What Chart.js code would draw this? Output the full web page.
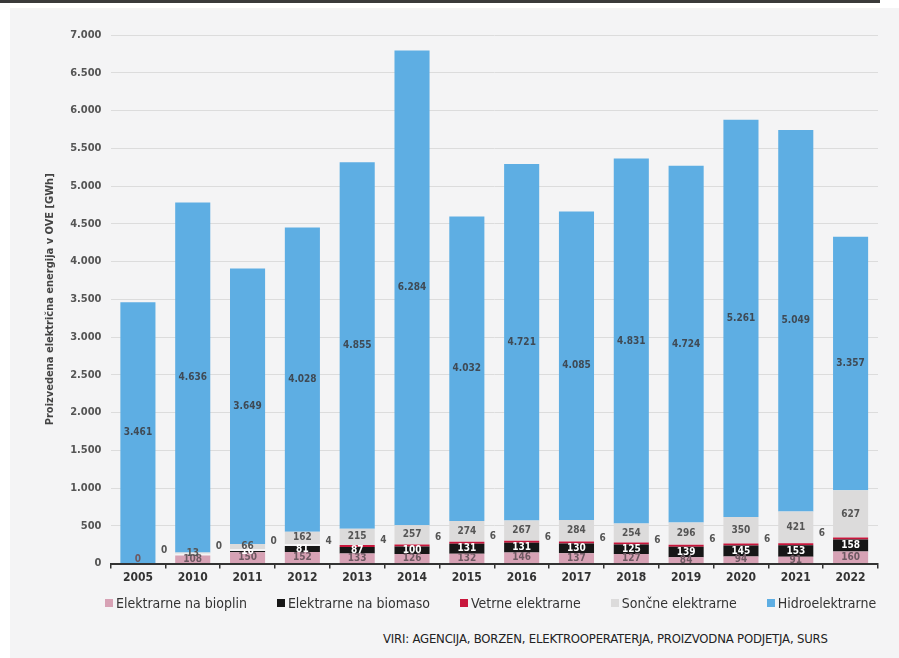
<!DOCTYPE html>
<html>
<head>
<meta charset="utf-8">
<script src="https://cdn.jsdelivr.net/npm/chart.js@4.4.0/dist/chart.umd.min.js"></script>
<style>
  html, body { margin: 0; padding: 0; background: #ffffff; }
  .topbar { position: absolute; left: 0; top: 0; width: 880px; height: 3px; background: #3a3a3a; }
  .panel { position: absolute; left: 10px; top: 8px; width: 889px; height: 650px; background: #f4f4f5; }
  .wrap { position: absolute; left: 0; top: 0; width: 899px; height: 600px; }
  .legend { position: absolute; left: 105px; top: 595px; display: flex; gap: 30px; font: 14px 'DejaVu Sans Condensed', sans-serif; color: #333; }
  .legend span.item { display: flex; align-items: center; white-space: nowrap; }
  .legend i { display: inline-block; width: 8px; height: 8px; margin-right: 3px; }
  .source { position: absolute; left: 383px; top: 631px; font: 13px 'DejaVu Sans Condensed', sans-serif; color: #222; letter-spacing: -0.2px; }
</style>
</head>
<body>
<div class="topbar"></div>
<div class="panel"></div>
<div class="wrap"><canvas id="chart" width="899" height="600"></canvas></div>
<div class="legend" id="legend"></div>
<div class="source">VIRI: AGENCIJA, BORZEN, ELEKTROOPERATERJA, PROIZVODNA PODJETJA, SURS</div>
<script>
// podatki
const years = ['2005', '2010', '2011', '2012', '2013', '2014', '2015', '2016', '2017', '2018', '2019', '2020', '2021', '2022'];
const bioplin = [0, 108, 150, 152, 133, 126, 132, 146, 137, 127, 84, 94, 91, 160];
const biomasa = [null, null, 16, 81, 87, 100, 131, 131, 130, 125, 139, 145, 153, 158];
const veter = [null, 0, 0, 0, 4, 4, 6, 6, 6, 6, 6, 6, 6, 6];
const sonce = [null, 13, 66, 162, 215, 257, 274, 267, 284, 254, 296, 350, 421, 627];
const hidro = [3461, 4636, 3649, 4028, 4855, 6284, 4032, 4721, 4085, 4831, 4724, 5261, 5049, 3357];
const yTicks = [0, 500, 1000, 1500, 2000, 2500, 3000, 3500, 4000, 4500, 5000, 5500, 6000, 6500, 7000];

const FONT = "'DejaVu Sans Condensed', 'DejaVu Sans', sans-serif";
const fmt = v => v.toLocaleString('de-DE');

// labels inside the stacked segments
const segmentLabels = {
  id: 'segmentLabels',
  afterDatasetsDraw(chart) {
    const ctx = chart.ctx;
    ctx.save();
    ctx.font = 'bold 10px ' + FONT;
    ctx.textBaseline = 'middle';
    chart.data.datasets.forEach((ds, di) => {
      const meta = chart.getDatasetMeta(di);
      meta.data.forEach((bar, i) => {
        const v = ds.data[i];
        if (v === null || v === undefined) return;
        if (ds.labelMode === 'left') {
          ctx.textAlign = 'right';
          ctx.fillStyle = '#555';
          ctx.fillText(fmt(v), bar.x - bar.width / 2 - 8, bar.y - 4);
          return;
        }
        ctx.textAlign = 'center';
        ctx.fillStyle = ds.labelColor;
        let y = (bar.y + bar.base) / 2;
        if (di === 0 && v === 0) y = bar.base - 4;
        ctx.fillText(fmt(v), bar.x, y);
      });
    });
    ctx.restore();
  }
};

const chart = new Chart(document.getElementById('chart'), {
  type: 'bar',
  data: {
    labels: years,
    datasets: [
      { label: 'Elektrarne na bioplin', data: bioplin, backgroundColor: '#d7a2b5', labelColor: '#6e5a63' },
      { label: 'Elektrarne na biomaso', data: biomasa, backgroundColor: '#161616', labelColor: '#ffffff' },
      { label: 'Vetrne elektrarne', data: veter, backgroundColor: veter.map(v => v ? '#c8163c' : 'rgba(0,0,0,0)'), minBarLength: 2, labelMode: 'left' },
      { label: 'Sončne elektrarne', data: sonce, backgroundColor: '#dcdbdb', labelColor: '#555555' },
      { label: 'Hidroelektrarne', data: hidro, backgroundColor: '#5eaee3', labelColor: '#3f4a55' }
    ]
  },
  options: {
    responsive: false,
    animation: false,
    barPercentage: 0.64,
    categoryPercentage: 1.0,
    layout: { padding: { left: 40, right: 21, top: 35, bottom: 13 } },
    plugins: {
      tooltip: { enabled: false },
      legend: { display: false }
    },
    scales: {
      x: {
        stacked: true,
        grid: { offset: true, drawOnChartArea: false, drawTicks: true, tickLength: 5, color: '#333', lineWidth: 1.5 },
        border: { color: '#333', width: 2 },
        ticks: { color: '#333', font: { family: FONT, size: 12, weight: 'bold' }, padding: 2 }
      },
      y: {
        stacked: true,
        min: 0, max: 7000,
        afterBuildTicks: axis => { axis.ticks = yTicks.map(v => ({ value: v })); },
        grid: { color: '#dcdcdc', drawTicks: false },
        border: { display: false },
        ticks: { color: '#555', padding: 9, font: { family: FONT, size: 11, weight: 'bold' }, callback: v => fmt(v) },
        title: { display: true, text: 'Proizvedena električna energija v OVE [GWh]', color: '#444', font: { family: FONT, size: 11, weight: 'bold' }, padding: 4 }
      }
    }
  },
  plugins: [segmentLabels]
});

// legend
const legendEl = document.getElementById('legend');
chart.data.datasets.forEach(ds => {
  const item = document.createElement('span');
  item.className = 'item';
  const color = Array.isArray(ds.backgroundColor) ? '#c8163c' : ds.backgroundColor;
  item.innerHTML = '<i style="background:' + color + '"></i>' + ds.label;
  legendEl.appendChild(item);
});
</script>
</body>
</html>
